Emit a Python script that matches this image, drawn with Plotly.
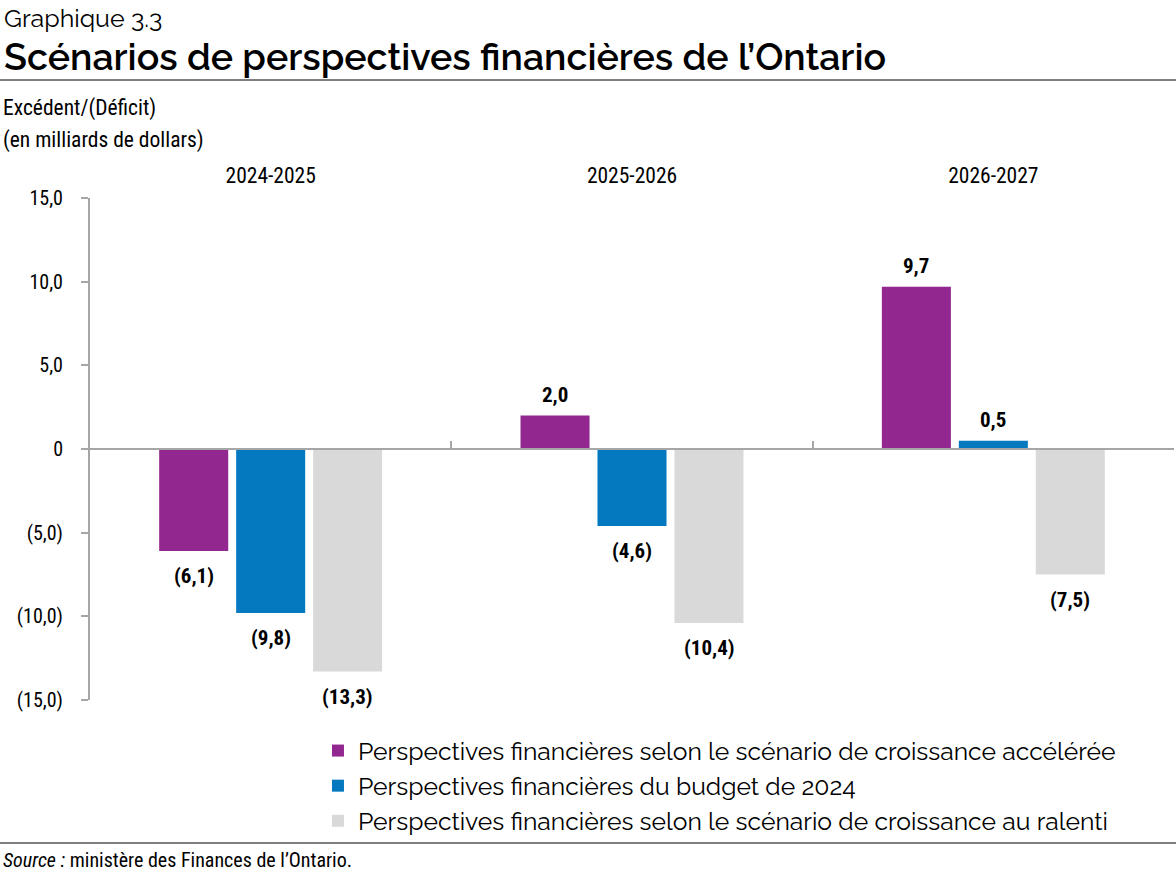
import plotly.graph_objects as go

categories = ["2024-2025", "2025-2026", "2026-2027"]
series_names = [
    "Perspectives financières selon le scénario de croissance accélérée",
    "Perspectives financières du budget de 2024",
    "Perspectives financières selon le scénario de croissance au ralenti",
]
faster_growth = [-6.1, 2.0, 9.7]
budget_2024 = [-9.8, -4.6, 0.5]
slower_growth = [-13.3, -10.4, -7.5]
y_tick_values = [15, 10, 5, 0, -5, -10, -15]
y_tick_labels = ["15,0", "10,0", "5,0", "0", "(5,0)", "(10,0)", "(15,0)"]

colors = ["#92278F", "#0579C0", "#D9D9D9"]
series_values = [faster_growth, budget_2024, slower_growth]

NARROW = "Liberation Sans Narrow, Arial Narrow, Roboto Condensed, sans-serif"
TITLE_FONT = "Raleway, Lato, Noto Sans, sans-serif"


def fmt(v):
    s = f"{abs(v):.1f}".replace(".", ",")
    return f"({s})" if v < 0 else s


fig = go.Figure()
for name, vals, col in zip(series_names, series_values, colors):
    fig.add_trace(go.Bar(
        x=categories, y=vals, name=name, marker=dict(color=col, line=dict(width=0)),
        legendgroup=name, hoverinfo="skip",
    ))

# value labels
annotations = []
shifts = [-77, 0, 77]
for vals, xs in zip(series_values, shifts):
    for c, v in zip(categories, vals):
        annotations.append(dict(
            x=c, y=v, xref="x", yref="y", text=fmt(v), showarrow=False,
            xshift=xs, yshift=21 if v >= 0 else -25,
            font=dict(family=NARROW, size=21, color="#000000", weight="bold"),
        ))

# titles and notes (paper coordinates)
def py(p):
    return (700 - p) / 502

def px(p):
    return (p - 90) / 1084

annotations += [
    dict(x=px(2), y=py(18), xref="paper", yref="paper", xanchor="left", yanchor="middle",
         text="Graphique 3.3", showarrow=False,
         font=dict(family=TITLE_FONT, size=25, color="#000000")),
    dict(x=px(2), y=py(57), xref="paper", yref="paper", xanchor="left", yanchor="middle",
         text="Scénarios de perspectives financières de l’Ontario", showarrow=False,
         font=dict(family=TITLE_FONT, size=37.5, color="#000000", weight=600)),
    dict(x=px(1), y=py(108), xref="paper", yref="paper", xanchor="left", yanchor="middle",
         text="Excédent/(Déficit)", showarrow=False,
         font=dict(family=NARROW, size=21.5, color="#000000")),
    dict(x=px(1), y=py(140), xref="paper", yref="paper", xanchor="left", yanchor="middle",
         text="(en milliards de dollars)", showarrow=False,
         font=dict(family=NARROW, size=21.5, color="#000000")),
    dict(x=px(1), y=py(860), xref="paper", yref="paper", xanchor="left", yanchor="middle",
         text="<i>Source :</i> ministère des Finances de l’Ontario.", showarrow=False,
         font=dict(family=NARROW, size=20, color="#000000")),
]

shapes = [
    dict(type="line", xref="paper", yref="paper", x0=px(0), x1=px(1176), y0=py(80), y1=py(80),
         line=dict(color="#000000", width=1)),
    dict(type="line", xref="paper", yref="paper", x0=px(0), x1=px(1176), y0=py(843), y1=py(843),
         line=dict(color="#000000", width=1)),
]

fig.update_layout(
    width=1176, height=888,
    margin=dict(l=90, r=2, t=198, b=188),
    paper_bgcolor="white", plot_bgcolor="white",
    barmode="group", bargap=0.361, bargroupgap=0.103,
    showlegend=True,
    legend=dict(x=0.2103, y=py(728), xanchor="left", yanchor="top",
                font=dict(family=TITLE_FONT, size=24.7, color="#000000"),
                tracegroupgap=0, bgcolor="rgba(0,0,0,0)"),
    annotations=annotations, shapes=shapes,
    xaxis=dict(type="category", side="top", range=[-0.5, 2.5], showline=False, ticks="",
               showgrid=False, zeroline=False, ticklabelstandoff=10,
               tickfont=dict(family=NARROW, size=21.5, color="#000000")),
    xaxis2=dict(overlaying="x", anchor="free", position=0.5, range=[-0.5, 2.5],
                showline=True, linecolor="#A6A6A6", linewidth=2, ticks="inside",
                tickvals=[0.5, 1.5, 2.5], ticklen=7, tickwidth=2, tickcolor="#A6A6A6",
                showticklabels=False, showgrid=False, zeroline=False),
    yaxis=dict(range=[-15, 15], tickvals=y_tick_values, ticktext=y_tick_labels,
               showline=True, linecolor="#A6A6A6", linewidth=2, ticks="outside",
               ticklen=7, tickwidth=2, tickcolor="#A6A6A6", showgrid=False,
               zeroline=False, ticklabelstandoff=14,
               tickfont=dict(family=NARROW, size=20, color="#000000")),
)
# invisible trace to activate xaxis2 (zero baseline with category dividers)
fig.add_trace(go.Scatter(x=[None], y=[None], xaxis="x2", showlegend=False, hoverinfo="skip"))

fig.write_html("out.html", config={"displayModeBar": False},
               post_script="document.body.style.margin='0';")
